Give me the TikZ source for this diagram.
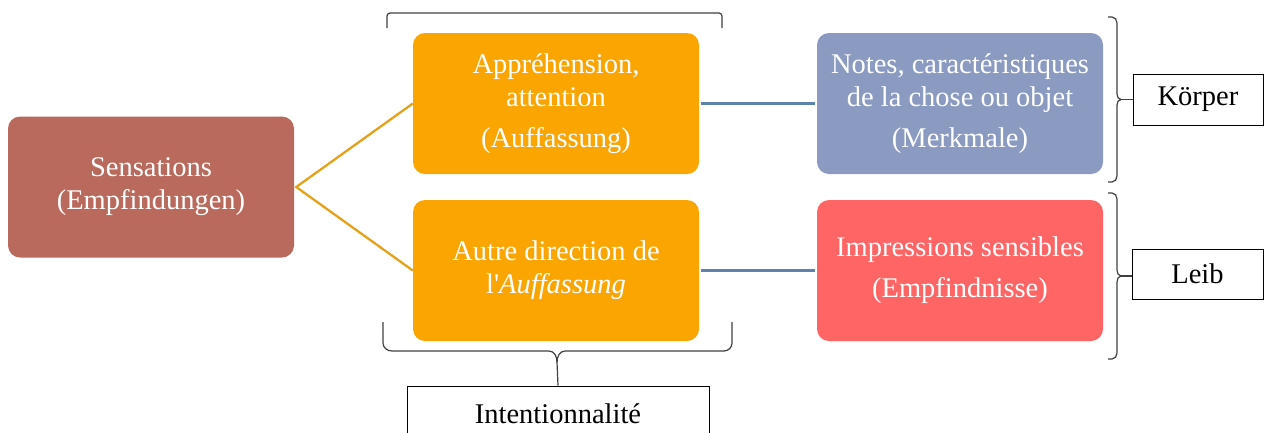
\documentclass[tikz,border=0pt]{standalone}
\usepackage{fontspec}
\setmainfont{Liberation Serif}
\begin{document}
\begin{tikzpicture}[x=1pt,y=-1pt,
  box/.style={draw=none,rounded corners=12pt,minimum width=286pt,minimum height=141pt,text=white,align=center,font=\fontsize{28.5}{33}\selectfont,inner sep=0pt},
  lab/.style={draw=black,line width=0.8pt,align=center,font=\fontsize{28.5}{33}\selectfont,inner sep=0pt},
  brk/.style={draw=black!75,line width=1.2pt},
  olink/.style={draw=orangeline,line width=2.3pt},
  blink/.style={draw=blueline,line width=2.5pt}]
\definecolor{sens}{HTML}{B96A5D}
\definecolor{orng}{HTML}{FBA502}
\definecolor{notes}{HTML}{8A9AC0}
\definecolor{impr}{HTML}{FF6565}
\definecolor{orangeline}{HTML}{E3A21A}
\definecolor{blueline}{HTML}{5B83AD}
\useasboundingbox (0,0) rectangle (1265,432);
\clip (0,0) rectangle (1265,432);
\node[box,fill=sens] (sens) at (151,187) {Sensations\\(Empfindungen)};
\node[box,fill=orng] (appr) at (556,103.5) {Appréhension,\\attention\\[8pt](Auffassung)};
\node[box,fill=orng] (autre) at (556,270.5) {Autre direction de\\l\textquotesingle\textit{Auffassung}};
\node[box,fill=notes] (notes) at (960,103.5) {Notes, caractéristiques\\de la chose ou objet\\[8pt](Merkmale)};
\node[box,fill=impr] (impr) at (960,270.5) {Impressions sensibles\\[8pt](Empfindnisse)};
\node[lab,minimum width=130pt,minimum height=51pt] (koerper) at (1198,99.5) {Körper};
\node[lab,minimum width=131pt,minimum height=50pt] (leib) at (1197.5,274) {Leib};
\node[lab,minimum width=302pt,minimum height=60pt] (intent) at (558,416) {\raisebox{-7pt}[0pt][0pt]{Intentionnalité}};
% connectors
\draw[olink] (appr.west) -- ([xshift=2pt]sens.east) -- (autre.west);
\draw[blink] ([xshift=2pt]appr.east) -- ([xshift=-2pt]notes.west);
\draw[blink] ([xshift=2pt]autre.east) -- ([xshift=-2pt]impr.west);
% top bracket
\draw[brk] (387,28) -- (387,16) to[out=90,in=180] (390,13) -- (719,13) to[out=0,in=90] (722,16) -- (722,28);
% bottom brace
\coordinate (bcusp) at (557,362);
\draw[brk] (383,322) -- (383,343) to[out=-90,in=180] (392,351) -- (549,351) to[out=0,in=90] (bcusp);
\draw[brk] (bcusp) to[out=90,in=180] (565,351) -- (724,351) to[out=0,in=-90] (732,343) -- (732,322);
\draw[brk] (bcusp) -- (intent.north);
% Koerper brace
\coordinate (kcusp) at (1121,99.5);
\draw[brk] (1108,17) -- (1112,17) to[out=0,in=90] (1117,23) -- (1117,94) to[out=-90,in=180] (kcusp) to[out=180,in=90] (1117,105) -- (1117,176) to[out=-90,in=0] (1112,182) -- (1108,182);
\draw[brk] (kcusp) -- (koerper.west);
% Leib brace
\coordinate (lcusp) at (1121,276);
\draw[brk] (1108,193) -- (1112,193) to[out=0,in=90] (1117,199) -- (1117,270) to[out=-90,in=180] (lcusp) to[out=180,in=90] (1117,282) -- (1117,353) to[out=-90,in=0] (1112,359) -- (1108,359);
\draw[brk] (lcusp) -- (leib.west |- lcusp);
\end{tikzpicture}
\end{document}
